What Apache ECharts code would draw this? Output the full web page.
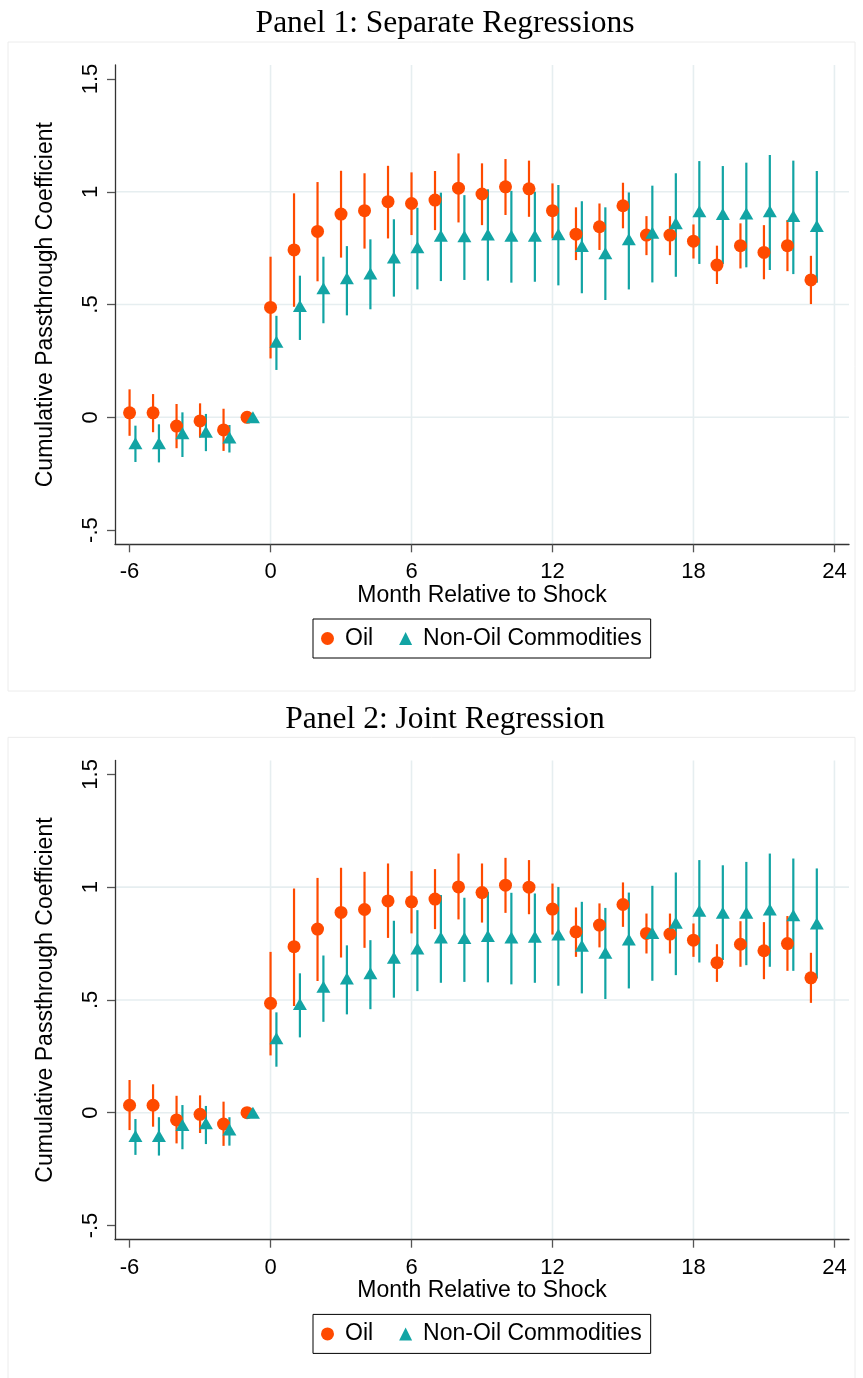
<!DOCTYPE html>
<html>
<head>
<meta charset="utf-8">
<script src="https://cdn.jsdelivr.net/npm/echarts@6/dist/echarts.min.js"></script>
<style>
html,body{margin:0;padding:0;background:#fff;}
#chart{width:863px;height:1378px;}
</style>
</head>
<body>
<div id="chart"></div>
<script>
// ---- data ----
const months = [-6,-5,-4,-3,-2,-1,0,1,2,3,4,5,6,7,8,9,10,11,12,13,14,15,16,17,18,19,20,21,22,23];
const xTicks = [-6,0,6,12,18,24];
const yTicks = [-0.5,0,0.5,1,1.5];
const xGrid = [0,6,12,18,24];
const yGrid = [0,0.5,1];

// Panel 1: Separate Regressions
const oil1   = [0.020,0.020,-0.039,-0.016,-0.056,0,0.487,0.742,0.824,0.901,0.916,0.956,0.948,0.963,1.016,0.990,1.022,1.013,0.916,0.812,0.845,0.938,0.808,0.808,0.781,0.675,0.761,0.731,0.761,0.609];
const oil1Lo = [-0.082,-0.066,-0.137,-0.090,-0.149,0,0.261,0.490,0.603,0.708,0.748,0.793,0.808,0.830,0.864,0.852,0.897,0.889,0.793,0.697,0.742,0.838,0.719,0.719,0.704,0.591,0.660,0.612,0.648,0.502];
const oil1Hi = [0.124,0.103,0.059,0.062,0.038,0,0.712,0.993,1.043,1.093,1.082,1.115,1.086,1.092,1.170,1.126,1.145,1.138,1.037,0.931,0.948,1.040,0.892,0.892,0.855,0.761,0.860,0.852,0.875,0.716];
const non1   = [-0.115,-0.115,-0.071,-0.064,-0.090,0,0.335,0.493,0.572,0.616,0.638,0.709,0.754,0.805,0.803,0.811,0.805,0.805,0.812,0.759,0.727,0.789,0.818,0.860,0.914,0.901,0.904,0.914,0.892,0.848];
const non1Lo = [-0.198,-0.200,-0.176,-0.150,-0.156,0,0.210,0.343,0.417,0.452,0.479,0.535,0.567,0.604,0.609,0.606,0.597,0.601,0.585,0.550,0.520,0.567,0.598,0.623,0.680,0.680,0.665,0.653,0.635,0.597];
const non1Hi = [-0.037,-0.031,0.022,0.015,-0.034,0,0.450,0.628,0.712,0.759,0.789,0.878,0.929,0.996,0.985,1.011,1.004,1.000,1.030,0.958,0.931,0.997,1.027,1.082,1.136,1.114,1.129,1.163,1.138,1.092];

// Panel 2: Joint Regression
const oil2   = [0.033,0.033,-0.032,-0.007,-0.050,0,0.485,0.736,0.814,0.888,0.901,0.939,0.935,0.947,1.001,0.976,1.009,1.000,0.903,0.802,0.832,0.923,0.795,0.792,0.765,0.665,0.747,0.718,0.750,0.598];
const oil2Lo = [-0.077,-0.062,-0.136,-0.090,-0.147,0,0.254,0.473,0.584,0.688,0.731,0.775,0.795,0.814,0.857,0.843,0.886,0.880,0.790,0.691,0.733,0.824,0.706,0.706,0.691,0.580,0.647,0.592,0.629,0.487];
const oil2Hi = [0.145,0.126,0.075,0.077,0.049,0,0.713,0.994,1.041,1.086,1.068,1.105,1.071,1.080,1.149,1.105,1.130,1.120,1.016,0.910,0.928,1.021,0.883,0.883,0.839,0.747,0.849,0.845,0.872,0.709];
const non2   = [-0.103,-0.103,-0.054,-0.047,-0.074,0,0.330,0.482,0.558,0.595,0.618,0.687,0.728,0.777,0.775,0.784,0.777,0.780,0.790,0.740,0.709,0.768,0.797,0.842,0.895,0.886,0.886,0.901,0.876,0.839];
const non2Lo = [-0.187,-0.190,-0.162,-0.139,-0.146,0,0.204,0.334,0.403,0.436,0.459,0.510,0.539,0.576,0.580,0.578,0.569,0.576,0.563,0.529,0.504,0.551,0.585,0.610,0.666,0.677,0.654,0.647,0.629,0.595];
const non2Hi = [-0.028,-0.020,0.034,0.030,-0.020,0,0.445,0.618,0.697,0.742,0.765,0.851,0.898,0.965,0.953,0.979,0.975,0.972,1.001,0.935,0.908,0.976,1.006,1.065,1.120,1.097,1.112,1.149,1.127,1.083];

// ---- style ----
const OIL_COLOR = '#ff4a00';
const NON_COLOR = '#12a4a4';
const GRID_COLOR = '#e6eef0';
const NON_OFFSET = 0.25;
const SANS = '"Liberation Sans", Arial, sans-serif';
const SERIF = '"Liberation Serif", "DejaVu Serif", serif';
const PANEL_SHIFT = 695.4;

const chart = echarts.init(document.getElementById('chart'), null, {renderer:'canvas'});

function yFmt(v){
  if (Math.abs(v) < 1e-9) return '0';
  let s = String(Math.round(v*10)/10);
  s = s.replace(/^0\./,'.').replace(/^-0\./,'-.');
  return s;
}

function makeAxes(i){
  const x = {
    type:'value', gridIndex:i, min:-6.62, max:24.62,
    axisLine:{show:true, onZero:false, lineStyle:{color:'#333', width:1.3}},
    axisTick:{show:true, length:8, customValues:xTicks, lineStyle:{color:'#555', width:1.3}},
    axisLabel:{show:true, customValues:xTicks, margin:17, fontSize:22, fontFamily:SANS, color:'#000'},
    splitLine:{show:false},
    name:'Month Relative to Shock', nameLocation:'middle', nameGap:37,
    nameTextStyle:{fontSize:23, fontFamily:SANS, color:'#000'},
    z:5
  };
  const y = {
    type:'value', gridIndex:i, min:-0.563, max:1.562,
    axisLine:{show:true, onZero:false, lineStyle:{color:'#333', width:1.3}},
    axisTick:{show:true, length:8, customValues:yTicks, lineStyle:{color:'#555', width:1.3}},
    axisLabel:{show:true, customValues:yTicks, rotate:90, margin:13, fontSize:22, fontFamily:SANS, color:'#000', formatter:yFmt},
    splitLine:{show:false},
    name:'Cumulative Passthrough Coefficient', nameLocation:'middle', nameGap:58,
    nameTextStyle:{fontSize:23, fontFamily:SANS, color:'#000'},
    z:5
  };
  return {x, y};
}

function errSeries(name, i, lo, hi, offset, color){
  return {
    type:'custom', name:name, xAxisIndex:i, yAxisIndex:i,
    data: months.map((m,k)=>[m+offset, lo[k], hi[k]]),
    encode:{x:0, y:[1,2]},
    renderItem:function(params, api){
      const p1 = api.coord([api.value(0), api.value(1)]);
      const p2 = api.coord([api.value(0), api.value(2)]);
      return {type:'line', shape:{x1:p1[0], y1:p1[1], x2:p2[0], y2:p2[1]},
              style:{stroke:color, lineWidth:2.2}};
    },
    z:2, silent:true
  };
}

function ptSeries(name, i, vals, offset, color, symbol, size){
  return {
    type:'scatter', name:name, xAxisIndex:i, yAxisIndex:i,
    data: months.map((m,k)=>[m+offset, vals[k]]),
    symbol:symbol, symbolSize:size,
    itemStyle:{color:color, opacity:1},
    z:3, silent:true
  };
}

// gridlines drawn under the marks
function vGridSeries(i){
  return {
    type:'custom', name:'vgrid'+i, xAxisIndex:i, yAxisIndex:i, z:1, silent:true,
    data: xGrid.map(v=>[v, 0]), encode:{x:0, y:1},
    renderItem:function(params, api){
      const cs = params.coordSys;
      const p = api.coord([api.value(0), 0]);
      return {type:'line', shape:{x1:p[0], y1:cs.y, x2:p[0], y2:cs.y+cs.height},
              style:{stroke:GRID_COLOR, lineWidth:1.6}};
    }
  };
}
function hGridSeries(i){
  return {
    type:'custom', name:'hgrid'+i, xAxisIndex:i, yAxisIndex:i, z:1, silent:true,
    data: yGrid.map(v=>[0, v]), encode:{x:0, y:1},
    renderItem:function(params, api){
      const cs = params.coordSys;
      const p = api.coord([0, api.value(1)]);
      return {type:'line', shape:{x1:cs.x, y1:p[1], x2:cs.x+cs.width, y2:p[1]},
              style:{stroke:GRID_COLOR, lineWidth:1.6}};
    }
  };
}

const a0 = makeAxes(0), a1 = makeAxes(1);

function legendAt(top){
  return {
    left:313, top:top, orient:'horizontal',
    data:[{name:'Oil', icon:'circle'}, {name:'Non-Oil Commodities', icon:'triangle'}],
    borderColor:'#000', borderWidth:1, padding:[8,9,8,8],
    itemWidth:13, itemHeight:13, itemGap:26,
    textStyle:{fontSize:23, fontFamily:SANS, color:'#000', padding:[0,0,0,6]},
    selectedMode:false
  };
}

const option = {
  animation:false,
  backgroundColor:'#ffffff',
  title:[
    {text:'Panel 1: Separate Regressions', left:440, textAlign:'center', top:3,
     textStyle:{fontSize:31.5, fontWeight:'normal', fontFamily:SERIF, color:'#000'}},
    {text:'Panel 2: Joint Regression', left:440, textAlign:'center', top:3+PANEL_SHIFT,
     textStyle:{fontSize:31.5, fontWeight:'normal', fontFamily:SERIF, color:'#000'}}
  ],
  graphic:[
    {type:'rect', shape:{x:8, y:42, width:847, height:649}, style:{fill:'#fff', stroke:'#ececec', lineWidth:1}, z:-10, silent:true},
    {type:'rect', shape:{x:8, y:42+PANEL_SHIFT, width:847, height:700}, style:{fill:'#fff', stroke:'#ececec', lineWidth:1}, z:-10, silent:true}
  ],
  legend:[legendAt(619), legendAt(619+PANEL_SHIFT)],
  grid:[
    {left:115, top:65, width:734, height:479.3, containLabel:false},
    {left:115, top:65+PANEL_SHIFT, width:734, height:479.3, containLabel:false}
  ],
  xAxis:[a0.x, a1.x],
  yAxis:[a0.y, a1.y],
  series:[
    vGridSeries(0), hGridSeries(0),
    errSeries('Oil CI', 0, oil1Lo, oil1Hi, 0, OIL_COLOR),
    ptSeries('Oil', 0, oil1, 0, OIL_COLOR, 'circle', 13),
    errSeries('Non-Oil CI', 0, non1Lo, non1Hi, NON_OFFSET, NON_COLOR),
    ptSeries('Non-Oil Commodities', 0, non1, NON_OFFSET, NON_COLOR, 'triangle', [14,12]),
    vGridSeries(1), hGridSeries(1),
    errSeries('Oil CI 2', 1, oil2Lo, oil2Hi, 0, OIL_COLOR),
    ptSeries('Oil', 1, oil2, 0, OIL_COLOR, 'circle', 13),
    errSeries('Non-Oil CI 2', 1, non2Lo, non2Hi, NON_OFFSET, NON_COLOR),
    ptSeries('Non-Oil Commodities', 1, non2, NON_OFFSET, NON_COLOR, 'triangle', [14,12])
  ]
};
chart.setOption(option);
</script>
</body>
</html>
